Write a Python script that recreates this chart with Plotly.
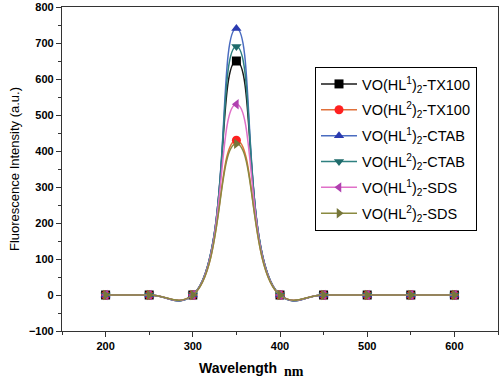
import plotly.graph_objects as go

wavelength = [200, 250, 300, 350, 400, 450, 500, 550, 600]
tx100_hl1 = [0, 0, 0, 650, 0, 0, 0, 0, 0]
tx100_hl2 = [0, 0, 0, 430, 0, 0, 0, 0, 0]
ctab_hl1 = [0, 0, 0, 740, 0, 0, 0, 0, 0]
ctab_hl2 = [0, 0, 0, 690, 0, 0, 0, 0, 0]
sds_hl1 = [0, 0, 0, 530, 0, 0, 0, 0, 0]
sds_hl2 = [0, 0, 0, 420, 0, 0, 0, 0, 0]

series = [
    ("VO(HL<sup>1</sup>)<sub>2</sub>-TX100", tx100_hl1, "#1a1a1a", "#000000", "square"),
    ("VO(HL<sup>2</sup>)<sub>2</sub>-TX100", tx100_hl2, "#e0703a", "#ff2020", "circle"),
    ("VO(HL<sup>1</sup>)<sub>2</sub>-CTAB", ctab_hl1, "#4a6cc0", "#2a3ab0", "triangle-up"),
    ("VO(HL<sup>2</sup>)<sub>2</sub>-CTAB", ctab_hl2, "#2e8080", "#1f6b6b", "triangle-down"),
    ("VO(HL<sup>1</sup>)<sub>2</sub>-SDS", sds_hl1, "#e070c8", "#b040b0", "triangle-left"),
    ("VO(HL<sup>2</sup>)<sub>2</sub>-SDS", sds_hl2, "#8a8a40", "#76763a", "triangle-right"),
]

fig = go.Figure()
for i, (name, ys, lc, mc, sym) in enumerate(series):
    fig.add_trace(go.Scatter(
        x=wavelength, y=ys, name=name, mode="lines+markers", legendgroup=f"g{i}",
        line=dict(color=lc, width=1.5, shape="spline", smoothing=1.3),
        marker=dict(symbol=sym, color=mc, size=9),
    ))

axis_common = dict(
    showgrid=False, zeroline=False, showline=True, linecolor="#333333", linewidth=1.2,
    mirror=True, ticks="outside", ticklen=5, tickwidth=1.2, tickcolor="#333333",
    tickfont=dict(family="Liberation Sans", size=11, color="#000000", weight="bold"),
    minor=dict(ticks="outside", ticklen=3, tickwidth=1, tickcolor="#333333"),
)

fig.update_layout(
    width=500, height=378,
    margin=dict(l=62, r=2, t=7, b=47),
    paper_bgcolor="white", plot_bgcolor="white",
    font=dict(family="Liberation Sans", color="#000000"),
    xaxis=dict(range=[150, 650], tickvals=[200, 300, 400, 500, 600], minor_dtick=50, **axis_common),
    yaxis=dict(range=[-100, 800], dtick=100, minor_dtick=50,
               title=dict(text="Fluorescence Intensity (a.u.)", font=dict(size=13), standoff=6),
               **axis_common),
    legend=dict(x=(315 - 62) / 436, y=(331 - 67) / 324, xanchor="left", yanchor="top",
                bordercolor="#000000", borderwidth=1, bgcolor="white",
                font=dict(size=14.5, family="Liberation Sans"), tracegroupgap=4,
                itemwidth=36),
    showlegend=True,
)

fig.add_annotation(text="<b>Wavelength</b>", xref="paper", yref="paper",
                   x=(238 - 62) / 436, y=-(368 - 331) / 324, xanchor="center", yanchor="middle",
                   showarrow=False, font=dict(size=14, family="Liberation Sans"))
fig.add_annotation(text="<b>nm</b>", xref="paper", yref="paper",
                   x=(294 - 62) / 436, y=-(372 - 331) / 324, xanchor="center", yanchor="middle",
                   showarrow=False, font=dict(size=14, family="Liberation Serif"))

fig.write_html("out.html", config={"displayModeBar": False},
               post_script="document.body.style.margin='0';")
